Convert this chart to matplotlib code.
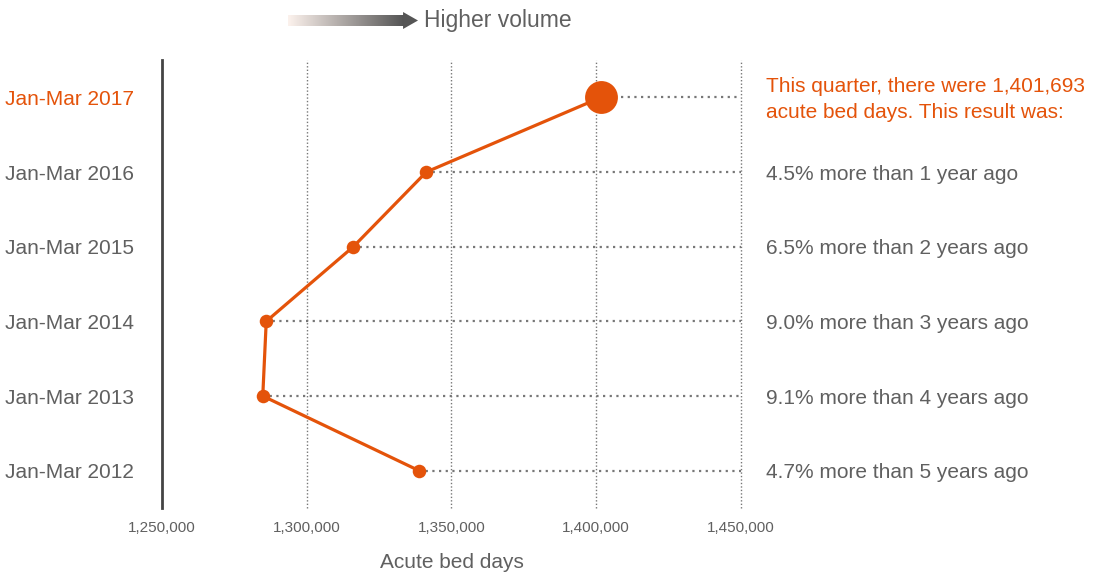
import numpy as np
import matplotlib
matplotlib.use("Agg")
import matplotlib.pyplot as plt
from matplotlib import transforms

plt.rcParams['font.family'] = ['Liberation Sans', 'DejaVu Sans']

quarters = ["Jan-Mar 2012", "Jan-Mar 2013", "Jan-Mar 2014",
            "Jan-Mar 2015", "Jan-Mar 2016", "Jan-Mar 2017"]
bed_days = [1338800, 1284800, 1286000, 1316100, 1341300, 1401693]
notes = ["4.7% more than 5 years ago", "9.1% more than 4 years ago",
         "9.0% more than 3 years ago", "6.5% more than 2 years ago",
         "4.5% more than 1 year ago",
         "This quarter, there were 1,401,693\nacute bed days. This result was:"]
x_ticks = [1250000, 1300000, 1350000, 1400000, 1450000]

ORANGE = "#E4530A"
GREY = "#606060"
GRID = "#777777"

fig = plt.figure(figsize=(11, 5.73), dpi=100)
ax = fig.add_axes([0.1473, 0.1134, 0.5263, 0.7819])
ax.set_xlim(1250000, 1450000)
ax.set_ylim(-0.5, 5.5)

y = np.arange(len(quarters))

# vertical reference lines
for xt in x_ticks[1:]:
    ax.axvline(xt, color=GRID, lw=1, ls=(0, (1, 1.5)), zorder=1, clip_on=False)

# dotted leaders from each point to the right edge
for yi, v in zip(y, bed_days):
    ax.plot([v, x_ticks[-1]], [yi, yi], color=GRID, lw=1.6,
            ls=(0, (1, 2)), zorder=1, clip_on=False)

ax.plot(bed_days, y, color=ORANGE, lw=2.3, zorder=3)
ax.scatter(bed_days[:-1], y[:-1], s=95, color=ORANGE, zorder=4, lw=0)
ax.scatter(bed_days[-1:], y[-1:], s=560, color=ORANGE, zorder=4, lw=0)

for s in ["top", "right", "bottom"]:
    ax.spines[s].set_visible(False)
ax.spines["left"].set_color("#444444")
ax.spines["left"].set_linewidth(2)

ax.set_xticks(x_ticks)
ax.set_xticklabels([f"{t:,}" for t in x_ticks], fontsize=11, color=GREY)
ax.tick_params(axis='x', length=0, pad=9)
ax.set_yticks(y)
ax.set_yticklabels(quarters, fontsize=15)
nudge = transforms.ScaledTranslation(0, -2 / 100, fig.dpi_scale_trans)
for lbl, q in zip(ax.get_yticklabels(), quarters):
    lbl.set_color(ORANGE if q == quarters[-1] else GREY)
    lbl.set_transform(lbl.get_transform() + nudge)
ax.tick_params(axis='y', length=0, pad=20)

ax.set_xlabel("Acute bed days", fontsize=15, color=GREY, labelpad=13)

# annotations on the right
for yi, note in zip(y, notes):
    latest = yi == y[-1]
    ax.text(1458500, yi, note, fontsize=15, va='center', ha='left',
            color=ORANGE if latest else GREY, linespacing=1.45,
            clip_on=False, transform=ax.transData + nudge)

# "Higher volume" arrow with gradient tail
grad_ax = fig.add_axes([288 / 1100, 1 - 29 / 573, 130 / 1100, 17 / 573])
grad = np.linspace(0, 1, 256)[None, :]
c0 = np.array([0.99, 0.95, 0.93])
c1 = np.array([0.33, 0.33, 0.33])
img = c0[None, None, :] * (1 - grad[..., None]) + c1[None, None, :] * grad[..., None]
grad_ax.imshow(img, aspect='auto', extent=[0, 0.89, 0.2, 0.8])
grad_ax.fill([0.885, 1.0, 0.885], [0.0, 0.5, 1.0], color="#555555", lw=0)
grad_ax.set_xlim(0, 1)
grad_ax.set_ylim(0, 1)
grad_ax.axis('off')
fig.text(424 / 1100, 1 - 21 / 573, "Higher volume", fontsize=16.5, color=GREY,
         va='center', ha='left')

fig.savefig("out.png", dpi=100)
